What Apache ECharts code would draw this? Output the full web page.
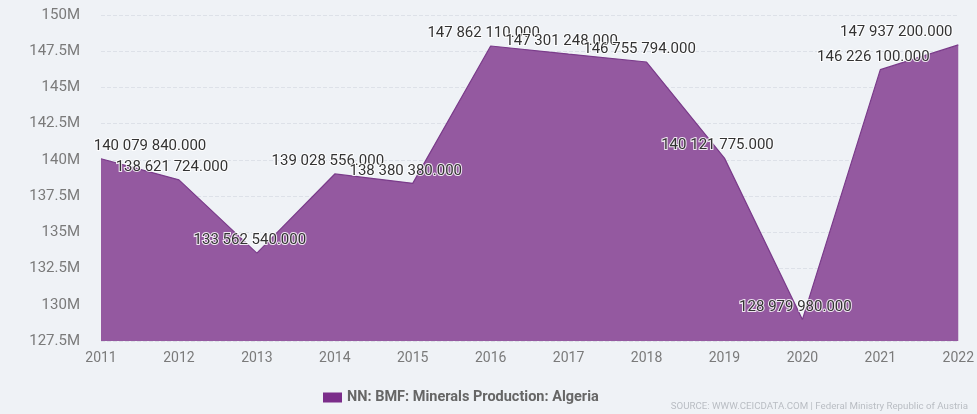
<!DOCTYPE html>
<html>
<head>
<meta charset="utf-8">
<script src="https://cdn.jsdelivr.net/npm/echarts@6/dist/echarts.min.js"></script>
<style>
  html, body { margin: 0; padding: 0; background: #eff2f6; }
  #chart { width: 977px; height: 414px; }
</style>
</head>
<body>
<div id="chart"></div>
<script>
// Annual minerals production, Algeria (tonnes)
const years = ['2011', '2012', '2013', '2014', '2015', '2016', '2017', '2018', '2019', '2020', '2021', '2022'];
const production = [140079840, 138621724, 133562540, 139028556, 138380380, 147862110, 147301248, 146755794, 140121775, 128979980, 146226100, 147937200];
const seriesName = 'NN: BMF: Minerals Production: Algeria';
const sourceNote = 'SOURCE: WWW.CEICDATA.COM | Federal Ministry Republic of Austria';

// "140 079 840.000" style
function fmtValue(v) {
  const s = Math.round(v).toString().replace(/\B(?=(\d{3})+(?!\d))/g, ' ');
  return s + '.000';
}

// Labels sit a little left of their point; the first and last ones are
// pushed inward (via asymmetric padding) so they stay inside the canvas.
const lastIdx = production.length - 1;
const seriesData = production.map((v, i) => {
  const item = { value: v };
  if (i === 0) item.label = { padding: [0, 0, 0, 98] };
  if (i === lastIdx) item.label = { padding: [0, 124, 0, 0] };
  return item;
});

const chart = echarts.init(document.getElementById('chart'));
chart.setOption({
  backgroundColor: '#eff2f6',
  animation: false,
  textStyle: { fontFamily: 'Roboto, sans-serif' },
  grid: { left: 101, right: 16, top: 15, bottom: 73 },
  xAxis: {
    type: 'category',
    data: years,
    boundaryGap: false,
    axisLine: { show: false },
    axisTick: { show: false },
    axisLabel: { color: '#7a7a7a', fontSize: 14, margin: 10 }
  },
  yAxis: {
    type: 'value',
    min: 127500000,
    max: 150000000,
    interval: 2500000,
    axisLine: { show: false },
    axisTick: { show: false },
    axisLabel: {
      color: '#7a7a7a',
      fontSize: 15,
      margin: 21,
      formatter: v => (v / 1e6) + 'M'
    },
    splitLine: { lineStyle: { color: '#dde1e8', type: 'dashed', width: 1 } }
  },
  legend: {
    left: 318,
    top: 385,
    itemWidth: 19,
    itemHeight: 10,
    itemGap: 6,
    icon: 'rect',
    textStyle: { color: '#666', fontSize: 14.5, fontWeight: 'bold' },
    data: [{ name: seriesName, itemStyle: { color: '#7b2d8a' } }]
  },
  graphic: [{
    type: 'text',
    right: 9,
    top: 402,
    style: { text: sourceNote, fill: '#b9bdc3', fontSize: 9.7, fontFamily: 'Roboto, sans-serif' }
  }],
  series: [{
    name: seriesName,
    type: 'line',
    data: seriesData,
    symbol: 'circle',
    symbolSize: 0.1,
    showSymbol: true,
    smooth: false,
    lineStyle: { color: '#7a3b8a', width: 1.2 },
    itemStyle: { color: '#7b2d8a' },
    areaStyle: { color: '#9459a0', opacity: 1 },
    label: {
      show: true,
      position: 'top',
      distance: 5,
      padding: [0, 14, 0, 0],
      color: '#333',
      fontSize: 15,
      textBorderColor: 'rgba(255,255,255,0.85)',
      textBorderWidth: 2,
      formatter: p => fmtValue(p.value)
    },
    labelLayout: { hideOverlap: false }
  }]
});
</script>
</body>
</html>
